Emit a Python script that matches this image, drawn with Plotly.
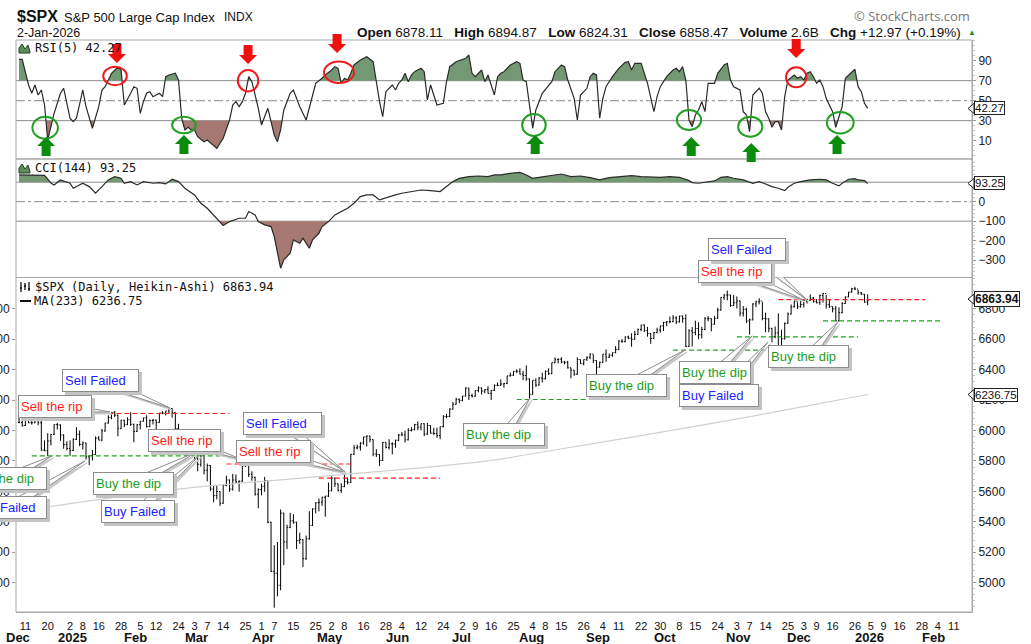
import math
import pandas as pd
import plotly.graph_objects as go

# ---------------------------------------------------------------- calendar
holidays = ["2024-12-25", "2025-01-01", "2025-01-09", "2025-01-20", "2025-02-17",
            "2025-04-18", "2025-05-26", "2025-06-19", "2025-07-04", "2025-09-01",
            "2025-11-27", "2025-12-25", "2026-01-01", "2026-01-19", "2026-02-16"]
sessions = pd.bdate_range("2024-12-09", "2026-02-27", freq="C", holidays=holidays)
bar_of = {d.strftime("%Y-%m-%d"): i for i, d in enumerate(sessions)}

# ---------------------------------------------------------------- $SPX daily bars (9-Dec-2024 .. 2-Jan-2026)
close = [
    6053, 6034, 6084, 6051, 6051, 6074, 6051, 5872, 5867, 5931, 5974, 6040, 6037, 5971, 5907, 5882,
    5869, 5942, 5975, 5909, 5918, 5827, 5836, 5843, 5950, 5937, 5997, 6049, 6086, 6119, 6101, 6012, 6068, 6039, 6071, 6041,
    5994, 6038, 6061, 6083, 6026, 6066, 6069, 6052, 6115, 6115, 6129, 6144, 6118, 6013, 5983, 5955, 5956, 5861, 5955,
    5850, 5778, 5843, 5739, 5770, 5615, 5572, 5599, 5522, 5639, 5675, 5615, 5675, 5663, 5667, 5768, 5777, 5712, 5693, 5581, 5612,
    5633, 5671, 5397, 5074, 5062, 4983, 5457, 5268, 5363, 5406, 5397, 5276, 5283, 5158, 5288, 5376, 5485, 5525, 5529, 5561, 5569,
    5604, 5687, 5650, 5607, 5631, 5664, 5660, 5844, 5886, 5892, 5917, 5958, 5964, 5940, 5845, 5842, 5803, 5922, 5889, 5912, 5912,
    5936, 5970, 5971, 5939, 6000, 6006, 6039, 6022, 6045, 5977, 6033, 5983, 5981, 5967, 6025, 6092, 6092, 6141, 6173, 6205,
    6198, 6227, 6279, 6230, 6226, 6263, 6280, 6260, 6269, 6244, 6264, 6297, 6297, 6306, 6309, 6359, 6363, 6389, 6390, 6371, 6362, 6339,
    6238, 6330, 6299, 6345, 6340, 6389, 6374, 6446, 6466, 6469, 6450, 6449, 6412, 6396, 6370, 6467, 6439, 6466, 6481, 6502, 6460,
    6416, 6448, 6502, 6482, 6495, 6512, 6532, 6588, 6584, 6615, 6607, 6600, 6632, 6664, 6694, 6657, 6638, 6605, 6644, 6661, 6688,
    6711, 6715, 6716, 6740, 6714, 6753, 6735, 6553, 6655, 6644, 6671, 6630, 6664, 6735, 6735, 6699, 6738, 6792, 6875, 6891, 6891, 6822, 6840,
    6852, 6772, 6796, 6720, 6728, 6832, 6846, 6851, 6737, 6734, 6672, 6617, 6642, 6539, 6603, 6705, 6766, 6813, 6849,
    6813, 6829, 6850, 6857, 6870, 6847, 6840, 6887, 6901, 6827, 6816, 6800, 6721, 6775, 6835, 6878, 6910, 6932, 6930, 6905, 6896, 6845,
    6858]
high = [
    6089, 6065, 6092, 6079, 6079, 6085, 6078, 6071, 5935, 5982, 5978, 6040, 6049, 6040, 5975, 5930,
    5935, 5949, 6022, 6000, 5928, 5920, 5837, 5872, 5961, 5964, 6011, 6051, 6100, 6119, 6128, 6105, 6070, 6070, 6087, 6120,
    6045, 6042, 6062, 6084, 6101, 6073, 6076, 6072, 6116, 6127, 6129, 6147, 6146, 6119, 6044, 5989, 6009, 5994, 5959,
    5987, 5865, 5860, 5845, 5783, 5772, 5636, 5642, 5601, 5645, 5703, 5678, 5715, 5711, 5672, 5775, 5787, 5786, 5732, 5696, 5620,
    5651, 5695, 5673, 5400, 5246, 5267, 5481, 5460, 5381, 5459, 5450, 5400, 5328, 5286, 5309, 5470, 5487, 5528, 5553, 5565, 5570,
    5658, 5700, 5690, 5652, 5654, 5720, 5691, 5845, 5906, 5906, 5924, 5959, 5968, 5966, 5942, 5878, 5845, 5924, 5923, 5943, 5922,
    5940, 5978, 5991, 5999, 6016, 6022, 6044, 6060, 6046, 6047, 6050, 6035, 6018, 6019, 6026, 6101, 6109, 6146, 6187, 6215,
    6211, 6227, 6284, 6281, 6242, 6265, 6290, 6283, 6271, 6291, 6267, 6303, 6316, 6336, 6310, 6360, 6381, 6390, 6402, 6409, 6392, 6428,
    6342, 6330, 6343, 6352, 6379, 6395, 6409, 6446, 6481, 6474, 6482, 6458, 6458, 6414, 6398, 6481, 6467, 6467, 6488, 6508, 6499,
    6462, 6453, 6503, 6533, 6507, 6512, 6555, 6593, 6601, 6619, 6624, 6639, 6656, 6671, 6695, 6697, 6681, 6640, 6649, 6676, 6689,
    6714, 6720, 6750, 6759, 6752, 6755, 6756, 6764, 6666, 6680, 6722, 6711, 6682, 6745, 6752, 6738, 6752, 6807, 6876, 6896, 6920, 6893, 6891,
    6882, 6855, 6819, 6807, 6736, 6837, 6854, 6870, 6845, 6775, 6738, 6675, 6684, 6770, 6663, 6710, 6776, 6829, 6853,
    6843, 6851, 6862, 6866, 6895, 6878, 6864, 6894, 6903, 6892, 6858, 6815, 6818, 6810, 6844, 6881, 6911, 6937, 6945, 6925, 6910, 6898,
    6895]
low = [
    6048, 6025, 6030, 6048, 6039, 6048, 6035, 5867, 5866, 5832, 5902, 5970, 6007, 5932, 5880, 5870,
    5834, 5865, 5938, 5897, 5874, 5809, 5773, 5802, 5840, 5936, 5930, 5993, 6045, 6074, 6089, 5962, 6010, 6022, 6035, 6030,
    5923, 5990, 6007, 6060, 6020, 6022, 6040, 6003, 6051, 6107, 6099, 6111, 6084, 6009, 5977, 5908, 5933, 5858, 5837,
    5810, 5732, 5762, 5711, 5666, 5603, 5528, 5547, 5505, 5518, 5633, 5597, 5605, 5654, 5598, 5662, 5760, 5694, 5670, 5572, 5489,
    5574, 5597, 5391, 5070, 4835, 4910, 4950, 5115, 5221, 5358, 5387, 5221, 5255, 5102, 5150, 5283, 5372, 5455, 5468, 5505, 5434,
    5563, 5600, 5629, 5599, 5589, 5628, 5646, 5655, 5840, 5876, 5868, 5907, 5895, 5922, 5831, 5826, 5767, 5800, 5883, 5875, 5843,
    5886, 5930, 5967, 5921, 5935, 5994, 6001, 6002, 6001, 5963, 5972, 5980, 5971, 5952, 5943, 6020, 6081, 6088, 6138, 6170,
    6179, 6192, 6224, 6201, 6217, 6222, 6251, 6237, 6245, 6243, 6201, 6260, 6291, 6294, 6282, 6305, 6355, 6360, 6378, 6369, 6331, 6327,
    6212, 6235, 6287, 6295, 6316, 6336, 6364, 6370, 6442, 6441, 6442, 6435, 6407, 6343, 6360, 6366, 6438, 6428, 6458, 6469, 6444,
    6361, 6415, 6445, 6452, 6477, 6484, 6508, 6528, 6577, 6580, 6600, 6551, 6596, 6628, 6653, 6647, 6617, 6570, 6601, 6640, 6643,
    6654, 6686, 6705, 6712, 6700, 6710, 6708, 6550, 6550, 6552, 6626, 6600, 6605, 6660, 6718, 6652, 6696, 6734, 6788, 6859, 6856, 6813, 6818,
    6802, 6751, 6749, 6706, 6631, 6724, 6811, 6829, 6725, 6646, 6646, 6581, 6606, 6522, 6521, 6598, 6701, 6762, 6808,
    6799, 6808, 6808, 6835, 6852, 6841, 6836, 6826, 6841, 6801, 6806, 6777, 6720, 6718, 6770, 6832, 6876, 6906, 6923, 6893, 6891, 6840,
    6824]
open_ = [close[0]] + close[:-1]
bars = list(range(len(close)))

# MA(233), read at a few bars
ma_bar = [0, 50, 90, 145, 165, 200, 230, 266]
ma_val = [5470, 5615, 5690, 5795, 5862, 5985, 6095, 6237]

# RSI(5), turning points (bar number, value)
rsi_bar = [0, 1, 3, 4, 5, 6, 7, 8, 9, 11, 13, 14, 16, 17, 18, 20, 21, 23, 25, 26, 27, 29, 31, 32, 33, 34, 35, 36, 37, 38,
           39, 40, 41, 42, 44, 45, 46, 47, 49, 50, 51, 52, 53, 54, 55, 56, 58, 59, 61, 62, 64, 66, 67, 68, 69, 70, 71, 72, 73, 75,
           76, 77, 78, 79, 80, 81, 82, 83, 84, 85, 86, 87, 88, 90, 92, 93, 95, 96, 98, 99, 100, 101, 102, 103, 104, 105, 107, 109, 111, 112,
           113, 114, 115, 117, 118, 119, 120, 121, 122, 123, 124, 126, 127, 128, 129, 130, 131, 133, 134, 135, 137, 140, 141, 142, 143, 145, 146, 147, 149, 150,
           151, 152, 154, 156, 157, 158, 159, 161, 162, 163, 164, 167, 168, 170, 171, 172, 174, 175, 176, 178, 179, 180, 181, 182, 183, 184, 186, 188, 190, 191,
           192, 193, 195, 197, 199, 200, 201, 203, 205, 206, 207, 208, 209, 210, 211, 212, 213, 214, 215, 216, 218, 219, 221, 222, 223, 224, 226, 227, 228, 229,
           230, 232, 233, 234, 235, 236, 237, 238, 239, 240, 241, 243, 244, 245, 246, 247, 248, 249, 250, 251, 252, 253, 255, 256, 258, 259, 261, 262, 263, 264,
           265, 266]
rsi_val = [91.4, 91.4, 65.7, 57.4, 65.7, 55.7, 60.7, 45.7, 10.7, 37.4, 57.4, 62.4, 32.4, 29, 32.4, 60.7, 44, 22.4, 44, 60.7, 64, 77.4, 83.4, 80.7, 45.7, 52.4, 57.4, 64, 62.4, 37.4,
           49, 57.4, 59, 54, 57.4, 54, 74, 75.7, 77.4, 70.7, 32.4, 20.7, 23.4, 20.7, 20.7, 14, 9, 10.7, 5.7, 2.4, 12.4, 30.7, 45.7, 49, 44, 49, 57.4, 74, 69, 42.4,
           25.7, 34, 42.4, 29, 15.7, 9, 20.7, 40.7, 49, 57.4, 60.7, 52.4, 44, 30.7, 55.7, 67.4, 72.4, 75.7, 80.7, 84, 82.4, 67.4, 72.4, 70.7, 77.4, 85.7, 90.7, 94, 89, 67.4,
           49, 34, 59, 65.7, 60.7, 67.4, 70.7, 77.4, 69, 75.7, 79, 82.4, 79, 50.7, 65.7, 55.7, 45.7, 47.4, 69, 84, 89, 92.4, 95.7, 77.4, 74, 80.7, 69, 75.7, 55.7, 74,
           77.4, 79, 85.7, 89, 87.4, 70.7, 69, 22.4, 40.7, 49, 57.4, 69, 79, 85.7, 84, 70.7, 52.4, 30.7, 55.7, 62.4, 74, 77.4, 75.7, 32.4, 52.4, 64, 74, 82.4, 88.4, 89,
           80.7, 87.4, 87.4, 67.4, 39, 54, 64, 74, 80.7, 82.4, 79, 84, 70.7, 30.7, 24, 35.7, 40.7, 49, 39, 67.4, 67.4, 77.4, 85.7, 87.4, 70.7, 64, 60.7, 39, 35.7, 19,
           55.7, 62.4, 57.4, 39, 32.4, 23.4, 29, 29, 20.7, 54, 70.7, 75.7, 72.4, 74, 70.7, 77.4, 79, 74, 67.4, 70.7, 64, 52.4, 39, 23.4, 44, 72.4, 79, 81.4, 64, 59,
           47.4, 42.27]

# CCI(144) (bar number, value)
cci_bar = [0, 5, 8, 10, 11, 13, 16, 17, 20, 22, 24, 26, 28, 30, 32, 33, 35, 37, 39, 42, 44, 46, 48, 50, 52, 55, 57, 59, 61, 63,
           64, 66, 68, 69, 71, 72, 74, 75, 77, 79, 80, 81, 82, 83, 85, 86, 88, 89, 91, 92, 94, 95, 97, 99, 101, 103, 105, 107, 109, 111,
           113, 116, 118, 120, 123, 126, 129, 132, 134, 136, 138, 141, 144, 147, 149, 151, 154, 157, 159, 161, 163, 166, 170, 173, 176, 179, 182, 185, 188, 192,
           195, 198, 201, 204, 207, 210, 211, 213, 216, 218, 220, 222, 224, 227, 230, 232, 234, 236, 238, 240, 241, 243, 245, 248, 251, 253, 255, 257, 258, 260,
           262, 263, 265, 266]
cci_val = [137, 137, 135, 96, 86, 111.5, 94.5, 69, 94.5, 77.4, 43.3, 77.4, 111.5, 128, 120, 94.5, 103, 86, 103, 94.5, 98, 91, 115, 103, 69, 34.7, -8, -33.6, -67.7, -102,
           -122, -102, -93, -85, -85, -50.6, -67.7, -102, -119, -127.5, -178.6, -264, -341, -298, -264, -196, -213, -187, -238.5, -196, -162, -127.5, -102, -67.7, -50.6, -33.6, -8, 26.2, 34.7, 34.7,
           9.1, 26.2, 34.7, 43.3, 51.8, 60, 57, 51.8, 77.4, 103, 120, 128.4, 131.8, 128.4, 137, 137, 145.4, 150.5, 137, 120, 125, 131.8, 142, 128.4, 131.8, 123.4, 111.5, 123.4, 128.4, 133.5,
           128.4, 125, 125, 128.4, 125, 108, 98, 94.5, 103, 106.4, 125, 128.4, 120, 111.5, 94.5, 103, 91, 77.4, 69, 57, 74, 94.5, 103, 111.5, 115, 111.5, 94.5, 80.8, 94.5, 115,
           118, 111.5, 108, 93.25]

# support / resistance levels drawn on the price panel
level_kind = ["rip", "rip", "rip", "rip", "dip", "dip", "dip", "dip", "dip"]
level_price = [6112, 5780, 5687, 6860, 5833, 6204, 6528, 6615, 6721]
level_from = [28, 65, 94, 238, 4, 156, 205, 225, 252]
level_to = [66, 105, 132, 284, 63, 192, 234, 263, 289]

# call-out notes: text, bar and price they point at
note_text = ["Sell Failed", "Sell the rip", "Sell the rip", "Sell the rip", "Sell Failed", "Buy the dip",
             "Buy Failed", "Buy the dip", "Buy Failed", "Buy the dip", "Buy the dip", "Buy the dip",
             "Buy Failed", "Buy the dip", "Sell the rip", "Sell Failed"]
note_bar = [47.3, 28.5, 69.3, 101.6, 102.2, 10.3, 20.7, 55.8, 56.7, 160.2, 208.8, 229.8, 234.8, 256.7, 245.8, 247.0]
note_price = [6148, 6122, 5813, 5728, 5728, 5833, 5800, 5859, 5840, 6214, 6530, 6622, 6582, 6714, 6858, 6858]

# x axis labels
tick_dates = ["2024-12-11", "2024-12-20", "2025-01-02", "2025-01-08", "2025-01-16", "2025-01-28", "2025-02-05",
              "2025-02-12", "2025-02-24", "2025-03-03", "2025-03-07", "2025-03-14", "2025-03-25", "2025-04-01",
              "2025-04-07", "2025-04-15", "2025-04-25", "2025-05-02", "2025-05-08", "2025-05-16", "2025-05-28",
              "2025-06-04", "2025-06-12", "2025-06-24", "2025-07-02", "2025-07-09", "2025-07-16", "2025-07-25",
              "2025-08-04", "2025-08-08", "2025-08-15", "2025-08-26", "2025-09-04", "2025-09-11", "2025-09-22",
              "2025-09-30", "2025-10-08", "2025-10-15", "2025-10-24", "2025-11-03", "2025-11-07", "2025-11-14",
              "2025-11-25", "2025-12-03", "2025-12-09", "2025-12-16", "2025-12-26", "2026-01-05", "2026-01-09",
              "2026-01-16", "2026-01-28", "2026-02-04", "2026-02-11"]
month_dates = ["2024-12-09", "2025-01-02", "2025-02-03", "2025-03-03", "2025-04-01", "2025-05-01", "2025-06-02",
               "2025-07-01", "2025-08-01", "2025-09-02", "2025-10-01", "2025-11-03", "2025-12-01", "2026-01-02",
               "2026-02-02"]
month_text = ["Dec", "2025", "Feb", "Mar", "Apr", "May", "Jun", "Jul", "Aug", "Sep", "Oct", "Nov", "Dec", "2026", "Feb"]

# ---------------------------------------------------------------- geometry / style
W, H = 1031, 644
ML, MR, MT, MB = 16, 59, 40, 32
PW, PH = W - ML - MR, H - MT - MB
X_RANGE = [-0.94, 298.7]
DOM_MAIN, DOM_CCI, DOM_RSI = [0, 0.5848], [0.5848, 0.792], [0.792, 1]
R_MAIN, R_CCI, R_RSI = [4807, 7006], [-388.7, 219], [-8.3, 110.7]

SANS = "Liberation Sans, Arial, sans-serif"
MONO = "DejaVu Sans Mono, Liberation Mono, monospace"
GREEN_FILL, BROWN_FILL = "#749874", "#a57872"
NOTE_COLOR = {"Sell the rip": "#ff1a1a", "Sell Failed": "#2222ff", "Buy Failed": "#2222ff", "Buy the dip": "#1d9c1d"}


def px_x(px):
    return (px - ML) / PW


def px_y(py):
    return (H - MB - py) / PH


def rsi_paper(v):
    return DOM_RSI[0] + (v - R_RSI[0]) / (R_RSI[1] - R_RSI[0]) * (DOM_RSI[1] - DOM_RSI[0])


def band(xs, ys, level, above):
    bx, by = [], []
    for i, (x, y) in enumerate(zip(xs, ys)):
        if i:
            x0, y0 = xs[i - 1], ys[i - 1]
            if (y0 - level) * (y - level) < 0:
                t = (level - y0) / (y - y0)
                bx.append(x0 + t * (x - x0))
                by.append(level)
        bx.append(x)
        by.append(max(y, level) if above else min(y, level))
    return bx + [bx[-1], bx[0]], by + [level, level]


fig = go.Figure()

# RSI panel
for lvl, above, col in [(70, True, GREEN_FILL), (30, False, BROWN_FILL)]:
    fx, fy = band(rsi_bar, rsi_val, lvl, above)
    fig.add_trace(go.Scatter(x=fx, y=fy, yaxis="y3", fill="toself", fillcolor=col, mode="none", hoverinfo="skip"))
fig.add_trace(go.Scatter(x=rsi_bar, y=rsi_val, yaxis="y3", mode="lines", line=dict(color="#2a2a2a", width=1.2)))

# CCI panel
for lvl, above, col in [(100, True, GREEN_FILL), (-100, False, BROWN_FILL)]:
    fx, fy = band(cci_bar, cci_val, lvl, above)
    fig.add_trace(go.Scatter(x=fx, y=fy, yaxis="y2", fill="toself", fillcolor=col, mode="none", hoverinfo="skip"))
fig.add_trace(go.Scatter(x=cci_bar, y=cci_val, yaxis="y2", mode="lines", line=dict(color="#2a2a2a", width=1.2)))

# price panel
fig.add_trace(go.Scatter(x=ma_bar, y=ma_val, mode="lines", line=dict(color="#d0d0d0", width=1.2, shape="spline"),
                         hoverinfo="skip"))
fig.add_trace(go.Ohlc(x=bars, open=open_, high=high, low=low, close=close, tickwidth=0.35,
                      increasing=dict(line=dict(color="black", width=1)),
                      decreasing=dict(line=dict(color="black", width=1))))
fig.add_trace(go.Scatter(x=[0], y=[6000], yaxis="y4", mode="markers", marker=dict(opacity=0), hoverinfo="skip"))

shapes = []
# panel frames
for dom in (DOM_MAIN, DOM_CCI, DOM_RSI):
    shapes.append(dict(type="rect", xref="paper", yref="paper", x0=0, x1=1, y0=dom[0], y1=dom[1],
                       line=dict(color="#a9a9a9", width=1), layer="above"))
# indicator reference lines
for yref, lv, dash in [("y3", 70, "solid"), ("y3", 50, "dashdot"), ("y3", 30, "solid"),
                       ("y2", 100, "solid"), ("y2", 0, "dashdot"), ("y2", -100, "solid")]:
    shapes.append(dict(type="line", xref="paper", yref=yref, x0=0, x1=1, y0=lv, y1=lv,
                       line=dict(color="#8a8a8a", width=1, dash=dash), layer="below"))
# support / resistance
for kind, p, a, b in zip(level_kind, level_price, level_from, level_to):
    shapes.append(dict(type="line", xref="x", yref="y", x0=a, x1=b, y0=p, y1=p, layer="above",
                       line=dict(color="#ff2020" if kind == "rip" else "#24a024", width=1.2, dash="5px,3px")))

# RSI circles and block arrows
circles = [(30.1, 74.7, 3.7, 9.3, "r"), (71.8, 70.0, 3.2, 10.7, "r"), (100.3, 78.4, 4.7, 10.7, "r"),
           (243.6, 73.4, 3.2, 10, "r"), (8.2, 23.0, 4.0, 11, "g"), (51.7, 25.7, 3.7, 8.3, "g"),
           (161.4, 25.7, 3.7, 11, "g"), (210.0, 30.7, 3.8, 10, "g"), (229.2, 24.0, 3.8, 10, "g"),
           (257.4, 28.0, 4.2, 10.7, "g")]
for cx, cy, rx, ry, c in circles:
    shapes.append(dict(type="circle", xref="x", yref="y3", x0=cx - rx, x1=cx + rx, y0=cy - ry, y1=cy + ry,
                       line=dict(color="#ee1c1c" if c == "r" else "#22a022", width=2), layer="above"))
arrows = [(30.7, 87.7, -1), (71.8, 86.7, -1), (99.7, 97.7, -1), (243.6, 92.7, -1),
          (8.5, 13.7, 1), (51.7, 15.7, 1), (161.8, 15.7, 1), (210.7, 13.7, 1), (229.5, 7.7, 1), (256.4, 15.7, 1)]
for ax_, ay_, d in arrows:
    s = -d
    path = "M0,0 L-9,{0} L-4.5,{0} L-4.5,{1} L4.5,{1} L4.5,{0} L9,{0} Z".format(9 * s, 19 * s)
    shapes.append(dict(type="path", xref="x", yref="paper", xsizemode="pixel", ysizemode="pixel",
                       xanchor=ax_, yanchor=rsi_paper(ay_), path=path, layer="above",
                       fillcolor="#f01010" if d < 0 else "#0c8c0c", line=dict(width=0)))

annotations = []

# call-outs: box offset from the pointed bar, in pixels (dx right, dy down) and box width
note_box = [(-69.5, -27.5, 79), (-55, -5, 76), (-55.5, -18.5, 75), (-69.5, -20, 77), (-62.5, -48.5, 81),
            (-45.5, 23, 83), (-76, 46.5, 78), (-63.5, 31.5, 83), (-62, 56.5, 76), (-26, 37, 84),
            (-58.5, 36, 83), (-37, 37, 74), (-49, 54, 82), (-29.5, 34.5, 83), (-68, -28.5, 76), (-60, -51, 80)]
for txt, xb, yp, (dx, dy, bw) in zip(note_text, note_bar, note_price, note_box):
    vx, vy = dx, -dy
    n = math.hypot(vx, vy)
    qx, qy = -vy / n * 5, vx / n * 5
    for off, fill, lc in [(2, "#c9c9c9", "#c9c9c9"), (0, "white", "#8c8c8c")]:
        path = "M{:.1f},{:.1f} L{:.1f},{:.1f} L{:.1f},{:.1f} Z".format(
            off, -off, vx + qx + off, vy + qy - off, vx - qx + off, vy - qy - off)
        shapes.append(dict(type="path", xref="x", yref="y", xsizemode="pixel", ysizemode="pixel",
                           xanchor=xb, yanchor=yp, path=path, fillcolor=fill,
                           line=dict(color=lc, width=1), layer="above"))
for txt, xb, yp, (dx, dy, bw) in zip(note_text, note_bar, note_price, note_box):
    for off, bg, bc, fc in [(3, "#c4c4c4", "#c4c4c4", "#c4c4c4"), (0, "white", "#8c8c8c", NOTE_COLOR[txt])]:
        annotations.append(dict(x=xb, y=yp, xref="x", yref="y", text=txt, showarrow=False,
                                xshift=dx + off, yshift=-dy - off, width=bw - 8, height=17, align="left",
                                bgcolor=bg, bordercolor=bc, borderwidth=1, borderpad=2,
                                font=dict(family=SANS, size=13, color=fc)))

# month labels under the day ticks
for i, (d, t) in enumerate(zip(month_dates, month_text)):
    if i == 0:
        annotations.append(dict(x=px_x(4), y=px_y(637), xref="paper", yref="paper", xanchor="left",
                                yanchor="middle", text="<b>%s</b>" % t, showarrow=False,
                                font=dict(family=SANS, size=13, color="#111")))
    else:
        annotations.append(dict(x=bar_of[d], y=px_y(637), xref="x", yref="paper", text="<b>%s</b>" % t,
                                yanchor="middle", showarrow=False, xshift=2,
                                font=dict(family=SANS, size=13, color="#111")))

# header
sep = "\u00a0\u00a0\u00a0"
hdr = [
    (15, 16, "<b>$SPX</b>", 16, "#111", "left", SANS),
    (62, 17, "S&P 500 Large Cap Index", 13, "#111", "left", SANS),
    (222, 17, "INDX", 12, "#111", "left", SANS),
    (15, 33, "2-Jan-2026", 12.5, "#111", "left", SANS),
    (963, 33, "<b>Open</b> 6878.11" + sep + "<b>High</b> 6894.87" + sep + "<b>Low</b> 6824.31" + sep +
              "<b>Close</b> 6858.47" + sep + "<b>Volume</b> 2.6B" + sep + "<b>Chg</b> +12.97 (+0.19%)",
     13.5, "#111", "right", SANS),
    (966, 33, "\u25b2", 8, "#2e8b2e", "left", SANS),
    (972, 16, "\u00a9 StockCharts.com", 13, "#777", "right", "Open Sans, Liberation Sans, sans-serif"),
    (33, 48, "RSI(5) 42.27", 12, "#111", "left", MONO),
    (33, 168, "CCI(144) 93.25", 12, "#111", "left", MONO),
    (33, 287, "$SPX (Daily, Heikin-Ashi) 6863.94", 12, "#111", "left", MONO),
    (32, 301, "MA(233) 6236.75", 12, "#111", "left", MONO),
]
for x, y, t, sz, col, anc, fam in hdr:
    annotations.append(dict(x=px_x(x), y=px_y(y), xref="paper", yref="paper", text=t, showarrow=False,
                            xanchor=anc, yanchor="middle", font=dict(family=fam, size=sz, color=col)))
shapes.append(dict(type="line", xref="paper", yref="paper", x0=px_x(20), x1=px_x(31), y0=px_y(301), y1=px_y(301),
                   line=dict(color="#111", width=2)))
# small panel icons
for py in (53, 173):
    shapes.append(dict(type="path", xref="paper", yref="paper", xsizemode="pixel", ysizemode="pixel",
                       xanchor=px_x(19), yanchor=px_y(py), path="M0,0 L0,5 L3,9 L6,4 L9,8 L11,1 L11,0 Z",
                       fillcolor="#5e8c5e", line=dict(color="#1f3f1f", width=1)))
shapes.append(dict(type="path", xref="paper", yref="paper", xsizemode="pixel", ysizemode="pixel",
                   xanchor=px_x(20), yanchor=px_y(292), path="M1,0 V10 M5,2 V9 M9,1 V10 M0,4 H2 M4,6 H6 M8,3 H10",
                   line=dict(color="#111", width=1.3)))

# last-value tags on the right axis
for yref, v, txt, bold in [("y3", 42.27, "42.27", False), ("y2", 93.25, "93.25", False),
                           ("y", 6863.94, "6863.94", True), ("y", 6236.75, "6236.75", False)]:
    annotations.append(dict(x=1, y=v, xref="paper", yref=yref, xanchor="left", xshift=2,
                            text="<b>%s</b>" % txt if bold else txt, showarrow=False,
                            bgcolor="white", bordercolor="#222", borderwidth=1, borderpad=0,
                            font=dict(family=SANS, size=12 if bold else 11.5, color="#111")))
    shapes.append(dict(type="path", xref="paper", yref=yref, xsizemode="pixel", ysizemode="pixel",
                       xanchor=1, yanchor=v, path="M-4,0 L2,5 L2,-5 Z", fillcolor="white",
                       line=dict(color="#222", width=1), layer="above"))

tick_font = dict(family=SANS, size=12, color="#222")
fig.update_layout(
    template="none", width=W, height=H, margin=dict(l=ML, r=MR, t=MT, b=MB),
    paper_bgcolor="white", plot_bgcolor="white", showlegend=False, hovermode=False,
    font=dict(family=SANS),
    xaxis=dict(range=X_RANGE, anchor="y", showgrid=False, zeroline=False, showline=True, linecolor="#a9a9a9",
               tickvals=[bar_of[d] for d in tick_dates], ticktext=[str(int(d[8:])) for d in tick_dates],
               ticks="", ticklabelstandoff=4, tickfont=dict(family=SANS, size=11, color="#111"),
               rangeslider=dict(visible=False)),
    yaxis=dict(domain=DOM_MAIN, range=R_MAIN, side="right", anchor="x", showgrid=False, zeroline=False,
               tickvals=list(range(4800, 7000, 200)), ticks="outside", ticklen=3, tickcolor="#999",
               showline=True, linecolor="#a9a9a9", tickfont=tick_font,
               minor=dict(ticks="outside", ticklen=2, dtick=40, tickcolor="#c8c8c8")),
    yaxis2=dict(domain=DOM_CCI, range=R_CCI, side="right", anchor="x", showgrid=False, zeroline=False,
                tickvals=[-300, -200, -100, 0, 100], ticks="outside", ticklen=3, tickcolor="#999",
                showline=True, linecolor="#a9a9a9", tickfont=tick_font,
                minor=dict(ticks="outside", ticklen=2, dtick=20, tickcolor="#c8c8c8")),
    yaxis3=dict(domain=DOM_RSI, range=R_RSI, side="right", anchor="x", showgrid=False, zeroline=False,
                tickvals=[10, 30, 50, 70, 90], ticks="outside", ticklen=3, tickcolor="#999",
                showline=True, linecolor="#a9a9a9", tickfont=tick_font,
                minor=dict(ticks="outside", ticklen=2, dtick=5, tickcolor="#c8c8c8")),
    yaxis4=dict(overlaying="y", side="left", anchor="x", range=R_MAIN, showgrid=False, zeroline=False,
                tickvals=list(range(4800, 7000, 200)), ticks="outside", ticklen=3, tickcolor="#999",
                showline=False, tickfont=tick_font),
    shapes=shapes, annotations=annotations,
)

fig.write_html("out.html", config={"displayModeBar": False},
               post_script="document.body.style.margin='0px';")
